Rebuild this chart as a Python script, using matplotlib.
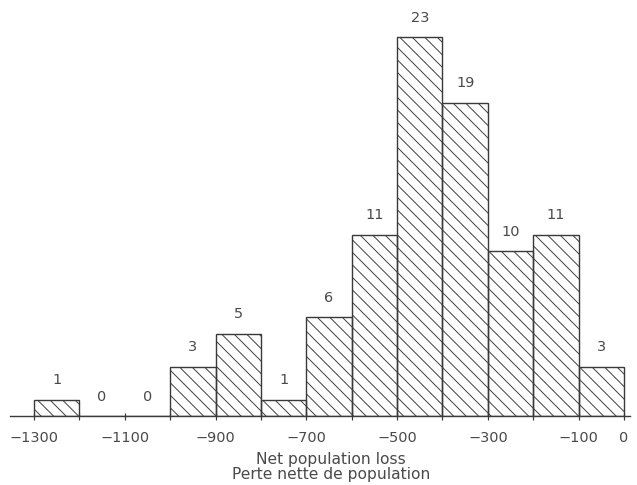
import numpy as np
import matplotlib.pyplot as plt

# ============================================================================
# DATA
# ============================================================================
bin_edges = [-1300, -1200, -1100, -1000, -900, -800, -700, -600,
             -500, -400, -300, -200, -100, 0]
counts = [1, 0, 0, 3, 5, 1, 6, 11, 23, 19, 10, 11, 3]
tick_values = [-1300, -1100, -900, -700, -500, -300, -100, 0]
tick_labels = ['\u22121300', '\u22121100', '\u2212900', '\u2212700',
               '\u2212500', '\u2212300', '\u2212100', '0']
xlabel_lines = ['Net population loss', 'Perte nette de population']

# ============================================================================
# STYLE
# ============================================================================
# dpi 75 so the '\\' hatch gets the wide spacing of the original
DPI = 75
W_PX, H_PX = 637, 485
plt.rcParams['hatch.linewidth'] = 0.9
plt.rcParams['hatch.color'] = '#666666'
line_color = '#3a3a3a'
text_color = '#4a4a4a'


def px(v):
    """pixels -> points at the chosen dpi"""
    return v * 72.0 / DPI


fig = plt.figure(figsize=(W_PX / DPI, H_PX / DPI), dpi=DPI)
ax = fig.add_axes([10 / W_PX, 69 / H_PX, 620 / W_PX, 416 / H_PX])

edges = np.array(bin_edges)
lefts = edges[:-1]
widths = np.diff(edges)

ax.bar(lefts, counts, width=widths, align='edge', fill=False,
       edgecolor=line_color, linewidth=px(1.4), hatch='\\\\')

# count above each bin
for left, w, c in zip(lefts, widths, counts):
    ax.text(left + w / 2, c + 0.75, str(c), ha='center', va='bottom',
            fontsize=px(14.5), color=text_color)

ax.set_xlim(-1352.9, 13.2)
ax.set_ylim(0, 25.24)

for side in ['top', 'right', 'left']:
    ax.spines[side].set_visible(False)
ax.spines['bottom'].set_color(line_color)
ax.spines['bottom'].set_linewidth(px(1.4))

ax.set_yticks([])
ax.set_xticks(bin_edges, minor=True)
ax.tick_params(axis='x', which='minor', direction='inout', length=px(7),
               width=px(1.2), color=line_color)
ax.set_xticks(tick_values)
ax.set_xticklabels(tick_labels)
ax.tick_params(axis='x', which='major', direction='inout', length=px(7),
               width=px(1.2), color=line_color, labelsize=px(14.5),
               labelcolor=text_color, pad=px(11))

ax.set_xlabel('\n'.join(xlabel_lines), fontsize=px(15.5), color=text_color,
              linespacing=1.05, va='top')
ax.xaxis.set_label_coords(0.518, -0.086)

fig.savefig('out.png', dpi=DPI)
